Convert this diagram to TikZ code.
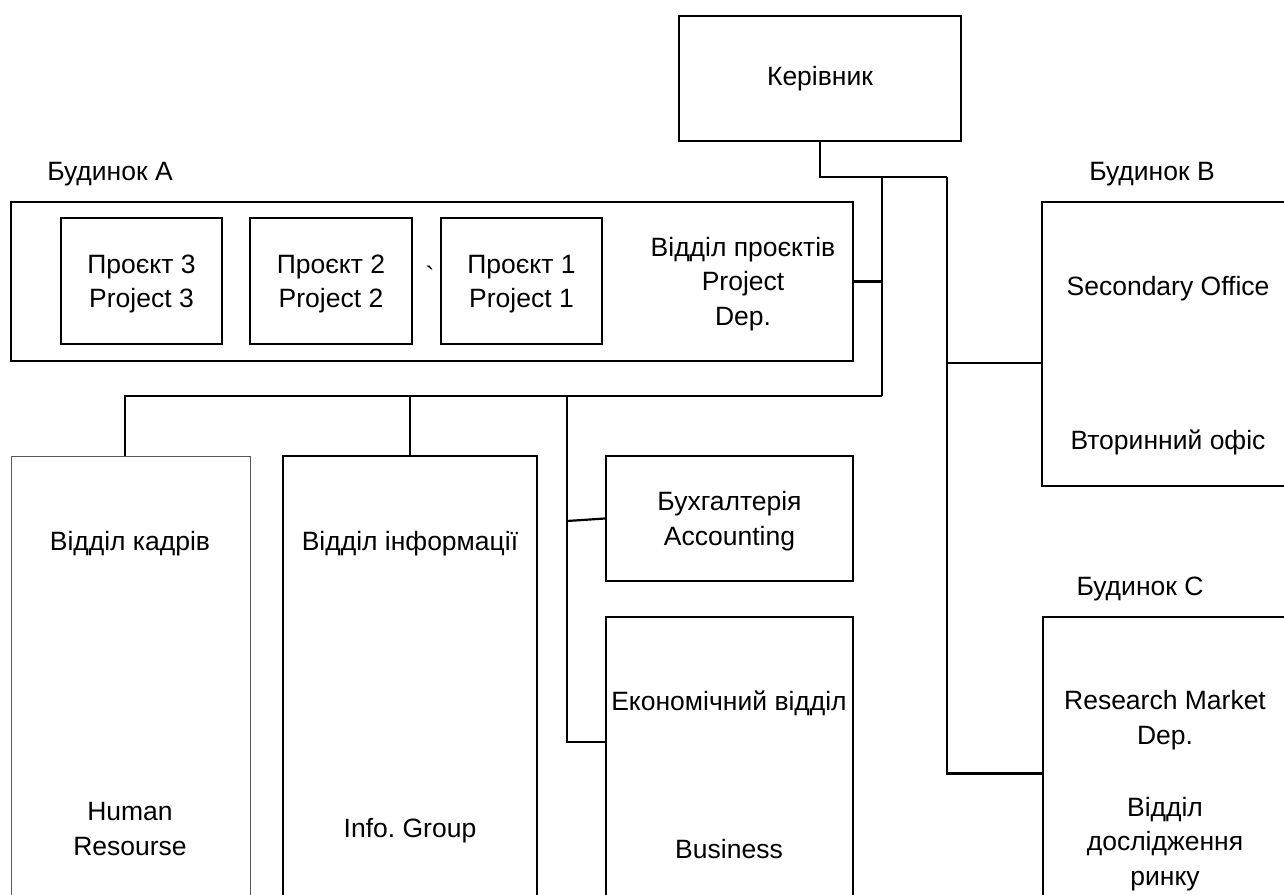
\documentclass[tikz,border=0pt]{standalone}
\usepackage{fontspec}
\setmainfont{Liberation Sans}
\newfontfamily\plainfont{Liberation Sans}
\begin{document}
\frenchspacing
\begin{tikzpicture}[
  x=1pt, y=-1pt,
  every node/.style={font=\fontsize{26.5pt}{34.5pt}\selectfont, inner sep=0pt},
  box/.style={draw, line width=2.2pt, align=center},
  thinbox/.style={draw=black!65, line width=1pt},
  lbl/.style={align=center},
  conn/.style={line width=2.2pt}
]
\clip (0,0) rectangle (1284,894);

% head of the organisation
\node[box, minimum width=282pt, minimum height=125pt] (boss) at (820,78.5) {Керівник};

% building A with the project department
\node[lbl] (tA) at (110,174) {Будинок А};
\node[box, minimum width=842pt, minimum height=159pt] (bldA) at (432,281.5) {};
\node[box, minimum width=161pt, minimum height=126pt] (p3) at (141.5,281) {};
\node[lbl] (p3t) at (141.5,284) {Проєкт 3\\Project 3};
\node[box, minimum width=162pt, minimum height=126pt] (p2) at (331,281) {};
\node[lbl] (p2t) at (331,284) {Проєкт 2\\Project 2};
\node[box, minimum width=161pt, minimum height=126pt] (p1) at (521.5,281) {};
\node[lbl] (p1t) at (521.5,284) {Проєкт 1\\Project 1};
\node (tick) at (430,276) {\plainfont `};
\node[lbl] (pdep) at (743,284) {Відділ проєктів\\Project\\Dep.};

% building B
\node[lbl] (tB) at (1152,174) {Будинок В};
\node[box, minimum width=258pt, minimum height=284pt] (sec) at (1171,344) {};
\node[lbl] (secEn) at (1168,289) {Secondary Office};
\node[lbl] (secUa) at (1168,442) {Вторинний офіс};

% building C
\node[lbl] (tC) at (1140,589) {Будинок С};
\node[box, minimum width=257pt, minimum height=313pt] (res) at (1171.5,773.5) {};
\node[lbl] (resEn) at (1165,720) {Research Market\\Dep.};
\node[lbl] (resUa) at (1165,844) {Відділ\\дослідження\\ринку};

% departments below building A
\node[thinbox, minimum width=239pt, minimum height=474pt] (hr) at (130.5,693) {};
\node[lbl] (hrUa) at (130,544) {Відділ кадрів};
\node[lbl] (hrEn) at (130,829) {Human\\Resourse};

\node[box, minimum width=254pt, minimum height=474pt] (info) at (410,693) {};
\node[lbl] (infoUa) at (410,544) {Відділ інформації};
\node[lbl] (infoEn) at (410,831) {Info. Group};

\node[box, minimum width=247pt, minimum height=125pt] (acc) at (729.5,518.5) {};
\node[lbl] (acct) at (729.5,521) {Бухгалтерія\\Accounting};

\node[box, minimum width=247pt, minimum height=313pt] (econ) at (729.5,773.5) {};
\node[lbl] (econUa) at (729,703) {Економічний відділ};
\node[lbl] (econEn) at (729,849) {Business};

% junction points of the connector tree
\coordinate (jB) at (947,177);
\coordinate (jA) at (882,177);
\coordinate (jD) at (882,396);
\coordinate (jHR) at (125,396);
\coordinate (jEc) at (567,396);
\coordinate (jAcc) at (567,521);
\coordinate (econIn) at (606,742);
\coordinate (jSec) at (947,363);
\coordinate (secIn) at (1042,363);

% connectors
\draw[conn] (boss.south) |- (jB);
\draw[conn] (jA) |- (bldA.east);
\draw[conn] (jA) -- (jD);
\draw[conn] (jD) -- (jHR) -- (jHR |- hr.north);
\draw[conn] (info.north) -- (info.north |- jD);
\draw[conn] (jEc) |- (econIn);
\draw[conn] (jAcc) -- (acc.west);
\draw[conn] (jB) |- (res.west);
\draw[conn] (jSec) -- (secIn);
\end{tikzpicture}
\end{document}
